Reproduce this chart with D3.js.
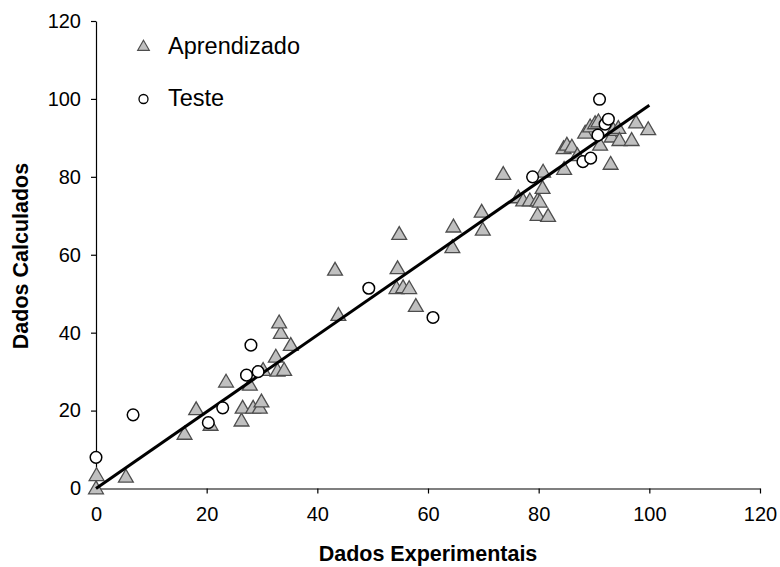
<!DOCTYPE html>
<html><head><meta charset="utf-8">
<script src="https://cdn.jsdelivr.net/npm/d3@7"></script>
<style>body{margin:0;background:#fff}svg{display:block}</style>
</head><body><svg id="c" width="780" height="567"></svg>
<script>
const aprX = [0,0.1,5.4,16,18.1,20.7,23.5,26.3,26.5,28.4,29.6,29.9,27.8,30.2,32.8,34.0,32.5,35.2,33.4,33.1,43.2,43.8,54.8,54.5,54.3,55.5,56.6,57.8,64.4,64.6,69.7,69.9,73.6,76.3,77.2,78.4,79.8,80.2,79.8,81.7,80.7,80.8,84.6,84.5,85.1,86.0,87.0,88.4,89.3,90.2,90.8,91.1,93.0,93.2,93.5,94.4,94.6,96.8,97.6,99.8];
const aprY = [0,3.4,3.0,14,20.3,16.3,27.4,17.4,20.7,20.7,20.7,22.3,26.6,30.4,30.2,30.4,33.8,36.8,39.9,42.6,56.1,44.5,65.3,56.5,51.4,51.6,51.4,46.8,61.9,67.2,71.0,66.4,80.7,74.7,73.9,73.9,73.9,73.6,70.2,69.9,77.1,81.3,82.0,87.3,88.2,87.7,85.5,91.3,92.9,93.7,94.2,88.2,83.3,90.3,92.0,92.5,89.4,89.4,93.9,92.2];
const tesX = [0,6.7,20.3,22.9,27.2,28.0,29.3,49.3,60.9,78.9,88.0,89.4,90.7,91.0,92.0,92.6];
const tesY = [8.0,18.9,16.9,20.7,29.1,36.8,30.0,51.4,43.9,80.0,83.9,84.8,90.7,99.9,93.5,94.8];
const lineX = [0,100];
const lineY = [0,98.4];
const xTicks = [0,20,40,60,80,100,120];
const yTicks = [0,20,40,60,80,100,120];
const seriesNames = ["Aprendizado","Teste"];
const xTitle = "Dados Experimentais";
const yTitle = "Dados Calculados";

const svg = d3.select("#c");
const font = "'Liberation Sans', Arial, sans-serif";
const x = d3.scaleLinear().domain([0,120]).range([96,760]);
const y = d3.scaleLinear().domain([0,120]).range([488.5,21]);

const xa = svg.append("g").attr("transform","translate(0,488.5)")
  .call(d3.axisBottom(x).tickValues(xTicks).tickSize(5).tickPadding(10).tickSizeOuter(0));
const ya = svg.append("g").attr("transform","translate(96,0)")
  .call(d3.axisLeft(y).tickValues(yTicks).tickSize(5).tickPadding(10).tickSizeOuter(0));
[xa,ya].forEach(g=>{
  g.selectAll("text").attr("font-family",font).attr("font-size",20).attr("fill","#000");
  g.selectAll("line,path").attr("stroke","#000").attr("stroke-width",1.2);
});
xa.selectAll("text").attr("dy",null).attr("y",32);

svg.append("text").attr("x",428).attr("y",561).attr("text-anchor","middle")
  .attr("font-family",font).attr("font-weight","bold").attr("font-size",21.5).text(xTitle);
svg.append("text").attr("transform","translate(28,256) rotate(-90)").attr("text-anchor","middle")
  .attr("font-family",font).attr("font-weight","bold").attr("font-size",21.5).text(yTitle);

const tri = d3.symbol().type(d3.symbolTriangle).size(95);
const triData = aprX.map((v,i)=>[v,aprY[i]]);
svg.append("g").selectAll("path").data(triData).join("path")
  .attr("d",tri).attr("transform",d=>`translate(${x(d[0])},${y(d[1])+1})`)
  .attr("fill","#c0c0c0").attr("stroke","#4d4d4d").attr("stroke-width",1.3);

svg.append("path").datum(lineX.map((v,i)=>[v,lineY[i]]))
  .attr("d",d3.line().x(d=>x(d[0])).y(d=>y(d[1])))
  .attr("stroke","#000").attr("stroke-width",3).attr("fill","none");

const cirData = tesX.map((v,i)=>[v,tesY[i]]);
svg.append("g").selectAll("circle").data(cirData).join("circle")
  .attr("cx",d=>x(d[0])).attr("cy",d=>y(d[1])).attr("r",5.8)
  .attr("fill","#fff").attr("stroke","#000").attr("stroke-width",1.5);

// legend
const lg = svg.append("g");
lg.append("path").attr("d",d3.symbol().type(d3.symbolTriangle).size(60))
  .attr("transform","translate(143.5,47)").attr("fill","#c0c0c0").attr("stroke","#4d4d4d").attr("stroke-width",1.1);
lg.append("circle").attr("cx",143.5).attr("cy",99).attr("r",4.5).attr("fill","#fff").attr("stroke","#000").attr("stroke-width",1.3);
lg.selectAll("text").data(seriesNames).join("text")
  .attr("x",168).attr("y",(d,i)=>[53.5,106][i])
  .attr("font-family",font).attr("font-size",23.5).text(d=>d);
</script></body></html>
